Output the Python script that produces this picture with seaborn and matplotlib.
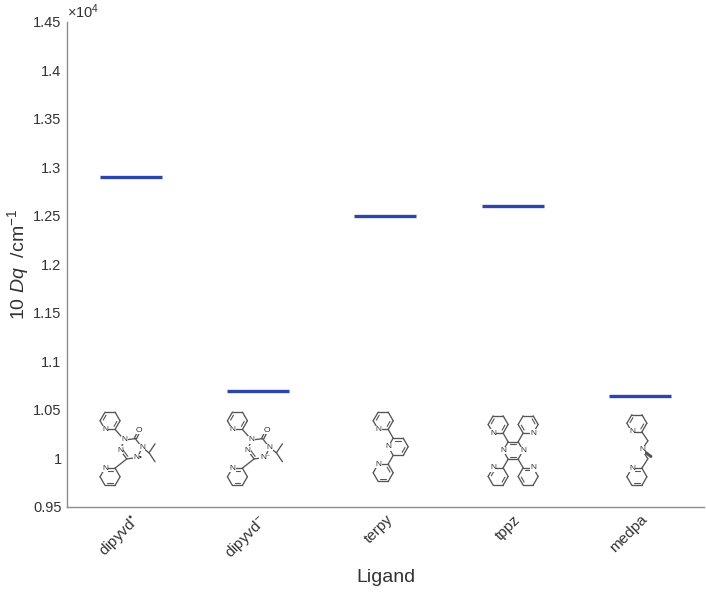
import matplotlib
matplotlib.use("Agg")
import matplotlib.pyplot as plt
import matplotlib.ticker as mticker
from matplotlib.lines import Line2D
from matplotlib.transforms import IdentityTransform
import numpy as np
import pandas as pd
import seaborn as sns

# data (10 Dq in cm^-1)
ligands = ["dipyvd$^{\u2022}$", "dipyvd$^{-}$", "terpy", "tppz", "medpa"]
dq_values = [12900, 10700, 12500, 12600, 10640]
y_ticks = [9500, 10000, 10500, 11000, 11500, 12000, 12500, 13000, 13500, 14000, 14500]

df = pd.DataFrame({"Ligand": ligands, "Dq": dq_values})

sns.set_style("white")
plt.rcParams["font.family"] = ["Liberation Sans", "DejaVu Sans"]
plt.rcParams["mathtext.fontset"] = "custom"
plt.rcParams["mathtext.rm"] = "Liberation Sans"
plt.rcParams["mathtext.it"] = "Liberation Sans:italic"

fig = plt.figure(figsize=(7.06, 5.94), dpi=100)
ax = fig.add_axes([0.095, 0.1465, 0.902, 0.8165])

line_color = "#2c45a8"
sns.scatterplot(data=df, x="Ligand", y="Dq", marker="_", s=45 ** 2,
                linewidth=2.4, color=line_color, edgecolor=line_color,
                legend=False, ax=ax, zorder=3)

ax.set_xlim(-0.5, 4.5)
ax.set_ylim(9500, 14500)
ax.set_yticks(y_ticks)
ax.yaxis.set_major_formatter(mticker.FuncFormatter(lambda v, p: f"{v / 1e4:g}"))

# axes styling (MATLAB look: inward ticks, no box)
spine_col = "#8c8c8c"
for side in ["top", "right"]:
    ax.spines[side].set_visible(False)
for side in ["left", "bottom"]:
    ax.spines[side].set_color(spine_col)
    ax.spines[side].set_linewidth(1.0)
ax.tick_params(axis="both", direction="in", length=5, width=0.8,
               color=spine_col, labelcolor="#333333", labelsize=10.5)
ax.tick_params(axis="y", pad=4)
ax.tick_params(axis="x", pad=4, labelsize=11)
for lbl in ax.get_xticklabels():
    lbl.set_rotation(45)
    lbl.set_ha("right")
    lbl.set_rotation_mode("anchor")

ax.text(0.0, 1.003, "$\\times 10^{4}$", transform=ax.transAxes,
        fontsize=10.5, color="#333333", ha="left", va="bottom")

ax.set_xlabel("Ligand", fontsize=14, color="#333333", va="top")
ax.set_ylabel("10 $Dq$  /cm$^{-1}$", fontsize=14, color="#333333")
ax.xaxis.set_label_coords(0.5, -0.128)
ax.yaxis.set_label_coords(-0.0565, 0.5)

# ---- small structure sketches under each ligand (pixel offsets, y down) ----
bond_col = "#555555"
ident = IdentityTransform()


def anchor(i):
    return ax.transData.transform((i, 10000))


def to_disp(i, p):
    X, Y = anchor(i)
    return X + p[0], Y - p[1]


def bond(i, p, q, lw=0.95):
    a, b = to_disp(i, p), to_disp(i, q)
    fig.add_artist(Line2D([a[0], b[0]], [a[1], b[1]], color=bond_col,
                          lw=lw, transform=ident, zorder=2))


def atom(i, p, s):
    x, y = to_disp(i, p)
    fig.text(x, y, s, transform=ident, fontsize=6, color="#2a2a2a",
             ha="center", va="center", zorder=3,
             bbox=dict(boxstyle="square,pad=0.05", fc="white", ec="none"))


def hexagon(c, r=10.0, rot=0.0):
    ang = np.deg2rad(rot + 60 * np.arange(6))
    return [(c[0] + r * np.cos(a), c[1] + r * np.sin(a)) for a in ang]


def ring(i, c, n_vertex, r=10.0, rot=0.0, doubles=(0, 2, 4)):
    v = hexagon(c, r, rot)
    for k in range(6):
        bond(i, v[k], v[(k + 1) % 6])
    for k in doubles:
        p, q = np.array(v[k]), np.array(v[(k + 1) % 6])
        cc = np.array(c)
        p2 = cc + 0.72 * (p - cc)
        q2 = cc + 0.72 * (q - cc)
        mid = (p2 + q2) / 2
        p2 = mid + 0.8 * (p2 - mid)
        q2 = mid + 0.8 * (q2 - mid)
        bond(i, p2, q2, lw=0.8)
    if n_vertex is not None:
        atom(i, v[n_vertex], "N")
    return v


def dipyvd(i, charge):
    top = ring(i, (-20.7, -37.7), 2, doubles=(0, 3))
    bot = ring(i, (-20.7, 18.3), 4, doubles=(1, 4))
    core = hexagon((0.3, -9.7), 11.0, -127)
    for k in range(6):
        bond(i, core[k], core[(k + 1) % 6])
    # C5=N6 double bond
    cc = np.array((0.3, -9.7))
    p, q = np.array(core[4]), np.array(core[5])
    bond(i, cc + 0.75 * (p - cc), cc + 0.75 * (q - cc), lw=0.8)
    bond(i, top[1], core[0])
    bond(i, bot[5], core[4])
    o = (8.6, -28.0)
    c2 = np.array(core[1])
    bond(i, c2 + (-1.2, 0), np.array(o) + (-1.2, 0))
    bond(i, c2 + (1.2, 0), np.array(o) + (1.2, 0))
    ch = (18.3, -5.7)
    bond(i, core[2], ch)
    bond(i, ch, (24.3, -14.7))
    bond(i, ch, (24.3, 3.3))
    atom(i, core[0], "N")
    atom(i, core[2], "N")
    atom(i, core[5], "N")
    atom(i, core[3], "N" + charge)
    atom(i, o, "O")


def terpy(i):
    mid = ring(i, (12.7, -11.7), 3, doubles=(0, 4))
    top = ring(i, (-2.3, -37.7), 2, doubles=(0, 3))
    bot = ring(i, (-2.3, 14.3), 4, doubles=(1, 5))
    bond(i, mid[4], top[1])
    bond(i, mid[2], bot[5])


def tppz(i):
    c = (0.3, -8.0)
    core = ring(i, c, None, doubles=(1, 4))
    atom(i, core[0], "N")
    atom(i, core[3], "N")
    tl = ring(i, (-14.7, -34.0), 2, doubles=(0, 3))
    tr = ring(i, (15.3, -34.0), 1, doubles=(2, 5))
    bl = ring(i, (-14.7, 18.0), 4, doubles=(0, 3))
    br = ring(i, (15.3, 18.0), 5, doubles=(2, 4))
    bond(i, core[4], tl[1])
    bond(i, core[5], tr[2])
    bond(i, core[2], bl[5])
    bond(i, core[1], br[4])


def medpa(i):
    top = ring(i, (-3.3, -35.2), 2, doubles=(0, 3))
    bot = ring(i, (-3.3, 18.3), 4, doubles=(1, 4))
    ch_a = (7.7, -17.7)
    n = (1.7, -8.7)
    ch_b = (7.7, 0.3)
    bond(i, top[1], ch_a)
    bond(i, ch_a, n)
    bond(i, n, ch_b)
    bond(i, ch_b, bot[5])
    bond(i, (3.5, -7.5), (10.7, -2.0), lw=2.2)
    atom(i, n, "N")


dipyvd(0, "\u2022")
dipyvd(1, "\u207b")
terpy(2)
tppz(3)
medpa(4)

fig.savefig("out.png", dpi=100)
